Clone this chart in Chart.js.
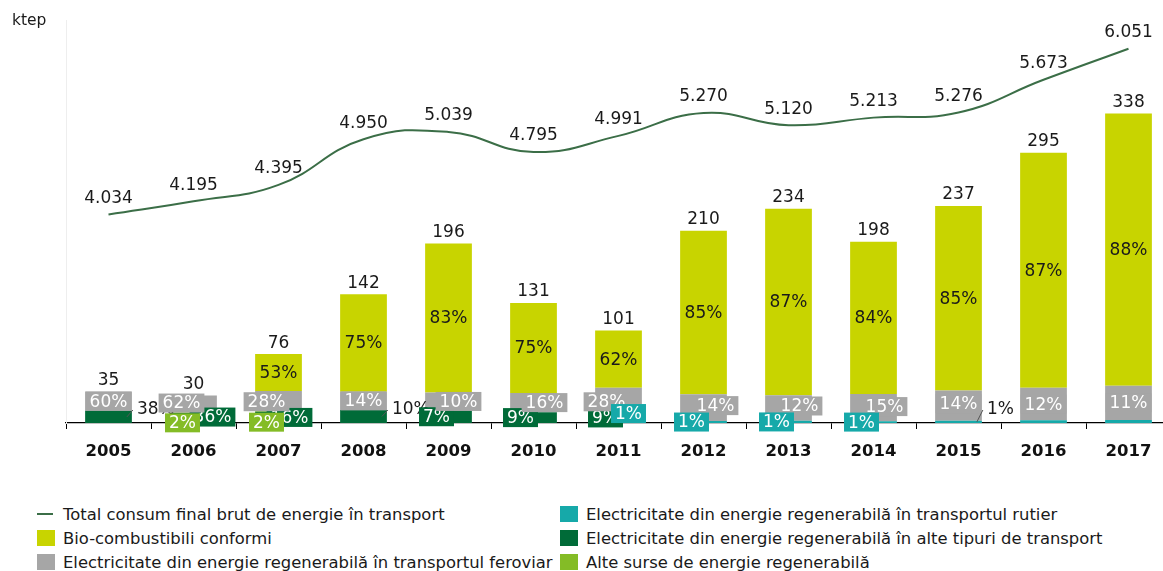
<!DOCTYPE html>
<html lang="ro">
<head>
<meta charset="utf-8">
<title>Energie regenerabilă în transport</title>
<script src="https://cdn.jsdelivr.net/npm/chart.js@4.4.1/dist/chart.umd.min.js"></script>
<style>
  html, body { margin: 0; padding: 0; background: #fff; overflow: hidden; }
  body { width: 1163px; height: 571px; position: relative; font-family: "DejaVu Sans", Verdana, sans-serif; color: #1a1a1a; }
  #wrap { position: absolute; left: 0; top: 0; width: 1180px; height: 480px; }
  #unit { position: absolute; left: 12px; top: 11px; font-size: 15.5px; }
  #legend { position: absolute; left: 37px; top: 502px; display: grid; grid-auto-flow: column;
            grid-template-rows: repeat(3, 24px); grid-template-columns: 523px auto; font-size: 16.4px; }
  #legend .item { display: flex; align-items: center; white-space: nowrap; }
  #legend .mark { width: 18px; height: 16px; margin-right: 8px; }
  #legend .mark.line { height: 2px; width: 16px; margin-right: 10px; }
</style>
</head>
<body>
<div id="wrap"><canvas id="chart" width="1180" height="480"></canvas></div>
<div id="unit">ktep</div>
<div id="legend"></div>
<script>
// ani si valori (ktep si ponderi %)
var years = ["2005", "2006", "2007", "2008", "2009", "2010", "2011", "2012", "2013", "2014", "2015", "2016", "2017"];
var totalRegenerabil = [35, 30, 76, 142, 196, 131, 101, 210, 234, 198, 237, 295, 338];
var consumTransport = [4034, 4195, 4395, 4950, 5039, 4795, 4991, 5270, 5120, 5213, 5276, 5673, 6051];
var pctBio = [0, 0, 53, 75, 83, 75, 62, 85, 87, 84, 85, 87, 88];
var pctFeroviar = [60, 62, 28, 14, 10, 16, 28, 14, 12, 15, 14, 12, 11];
var pctRutier = [0, 0, 0, 0, 0, 0, 1, 1, 1, 1, 1, 1, 1];
var pctAlteTransp = [38, 36, 16, 10, 7, 9, 9, 0, 0, 0, 0, 0, 0];
var pctAlteSurse = [0, 2, 2, 0, 0, 0, 0, 0, 0, 0, 0, 0, 0];

// pozitia etichetelor: [dx, dy] fata de centrul segmentului, 'out' = in afara cu linie, null = fara
var labelNudge = {
	bio: [null, null, [0, 0], [0, 0], [0, 0], [0, 0], [0, 0], [0, 0], [0, 0], [0, 0], [0, 0], [0, 0], [0, 0]],
	feroviar: [[0, 0], [-12, -1], [-12, 1], [0, 0], [10, 0], [11, 0], [-12, 1], [12, -2], [11, -2], [11, -1], [0, -2], [0, 0], [0, 0]],
	rutier: [null, null, null, null, null, null, [10, -9], [-12, 0], [-12, 0], [-12, 0], "out", null, null],
	alteTransp: ["out", [19, -1], [11, 0], "out", [-12, 0], [-13, 0], [-13, 0], null, null, null, null, null, null],
	alteSurse: [null, [-11, 10], [-12, 11], null, null, null, null, null, null, null, null, null, null]
};
var labelOrder = ["alteTransp", "feroviar", "rutier", "alteSurse", "bio"];

function share(pct) {
	return pct.map(function (p, i) { return totalRegenerabil[i] * p / 100; });
}
function fmt(v) {
	return String(v).replace(/\B(?=(\d{3})+(?!\d))/g, ".");
}

var FONT = '"DejaVu Sans", Verdana, sans-serif';
Chart.defaults.font.family = FONT;
Chart.defaults.color = "#1a1a1a";

var labelsPlugin = {
	id: "labelsPlugin",
	afterDatasetsDraw: function (chart) {
		var ctx = chart.ctx;
		var sets = chart.data.datasets;
		ctx.save();
		ctx.font = "17px " + FONT;
		ctx.textBaseline = "middle";

		labelOrder.forEach(function (key) {
			var di = sets.findIndex(function (d) { return d.key === key; });
			var ds = sets[di];
			chart.getDatasetMeta(di).data.forEach(function (bar, i) {
				var place = labelNudge[key][i];
				if (!place) return;
				var text = ds.pct[i] + "%";
				var cy = (bar.y + bar.base) / 2;
				if (place === "out") {
					var right = bar.x + bar.width / 2;
					ctx.strokeStyle = "#555";
					ctx.lineWidth = 1;
					ctx.beginPath();
					ctx.moveTo(right - 5, cy);
					ctx.lineTo(right + 1, bar.base - 13);
					ctx.stroke();
					ctx.fillStyle = "#1a1a1a";
					ctx.textAlign = "left";
					ctx.fillText(text, right + 5, bar.base - 13);
					return;
				}
				var x = bar.x + place[0];
				var y = cy + place[1];
				ctx.textAlign = "center";
				if (ds.boxed) {
					var w = ctx.measureText(text).width + 8;
					ctx.fillStyle = ds.backgroundColor;
					ctx.fillRect(x - w / 2, y - 9.5, w, 19);
					ctx.fillStyle = "#fff";
				} else {
					ctx.fillStyle = "#1a1a1a";
				}
				ctx.fillText(text, x, y + 1);
			});
		});

		// totalul de energie regenerabila deasupra coloanelor
		ctx.fillStyle = "#1a1a1a";
		ctx.textAlign = "center";
		var barSets = [];
		sets.forEach(function (d, di) { if (d.type !== "line") barSets.push(di); });
		totalRegenerabil.forEach(function (v, i) {
			var top = Infinity, x = 0;
			barSets.forEach(function (di) {
				var el = chart.getDatasetMeta(di).data[i];
				if (sets[di].data[i] > 0 && el.y < top) { top = el.y; x = el.x; }
			});
			ctx.fillText(String(v), x, top - 11);
		});

		// valorile consumului total deasupra liniei
		var li = sets.findIndex(function (d) { return d.type === "line"; });
		chart.getDatasetMeta(li).data.forEach(function (pt, i) {
			ctx.fillText(fmt(consumTransport[i]), pt.x, pt.y - 16);
		});
		ctx.restore();
	}
};

var chart = new Chart(document.getElementById("chart"), {
	type: "bar",
	data: {
		labels: years,
		datasets: [
			{ type: "line", key: "total", label: "Total consum final brut de energie în transport", data: consumTransport,
				yAxisID: "y2", borderColor: "#3b6e47", backgroundColor: "#3b6e47", borderWidth: 2,
				pointRadius: 0, tension: 0.45, order: 0 },
			{ key: "rutier", label: "Electricitate din energie regenerabilă în transportul rutier", data: share(pctRutier),
				pct: pctRutier, boxed: true, backgroundColor: "#16a9a9", order: 1 },
			{ key: "alteTransp", label: "Electricitate din energie regenerabilă în alte tipuri de transport", data: share(pctAlteTransp),
				pct: pctAlteTransp, boxed: true, backgroundColor: "#006b38", order: 1 },
			{ key: "alteSurse", label: "Alte surse de energie regenerabilă", data: share(pctAlteSurse),
				pct: pctAlteSurse, boxed: true, backgroundColor: "#84bc26", order: 1 },
			{ key: "feroviar", label: "Electricitate din energie regenerabilă în transportul feroviar", data: share(pctFeroviar),
				pct: pctFeroviar, boxed: true, backgroundColor: "#a6a6a6", order: 1 },
			{ key: "bio", label: "Bio-combustibili conformi", data: share(pctBio),
				pct: pctBio, boxed: false, backgroundColor: "#c8d400", order: 1 }
		]
	},
	options: {
		responsive: false,
		animation: false,
		layout: { padding: { top: 20, right: 9, left: 0, bottom: 0 } },
		datasets: { bar: { categoryPercentage: 1, barPercentage: 0.55, borderWidth: 0 } },
		plugins: { legend: { display: false }, tooltip: { enabled: false } },
		scales: {
			x: {
				stacked: true,
				border: { color: "#000", width: 1.3 },
				grid: { display: true, drawOnChartArea: false, drawTicks: true, tickLength: 6, color: "#000", offset: true },
				ticks: { padding: 13, color: "#111", font: { size: 16.5, weight: "bold" } },
				afterFit: function (s) { s.height = 57; }
			},
			y: {
				stacked: true, min: 0, max: 440,
				border: { color: "#eeeeee", width: 1 },
				grid: { display: false },
				ticks: { display: false },
				afterFit: function (s) { s.width = 66; }
			},
			y2: { display: false, min: 1500, max: 6400 }
		}
	},
	plugins: [labelsPlugin]
});

// legenda pe doua coloane
var legendOrder = ["total", "bio", "feroviar", "rutier", "alteTransp", "alteSurse"];
var legend = document.getElementById("legend");
legendOrder.forEach(function (key) {
	var ds = chart.data.datasets.find(function (d) { return d.key === key; });
	var item = document.createElement("div");
	item.className = "item";
	var mark = document.createElement("span");
	mark.className = "mark" + (ds.type === "line" ? " line" : "");
	mark.style.background = ds.backgroundColor;
	item.appendChild(mark);
	item.appendChild(document.createTextNode(ds.label));
	legend.appendChild(item);
});
</script>
</body>
</html>
